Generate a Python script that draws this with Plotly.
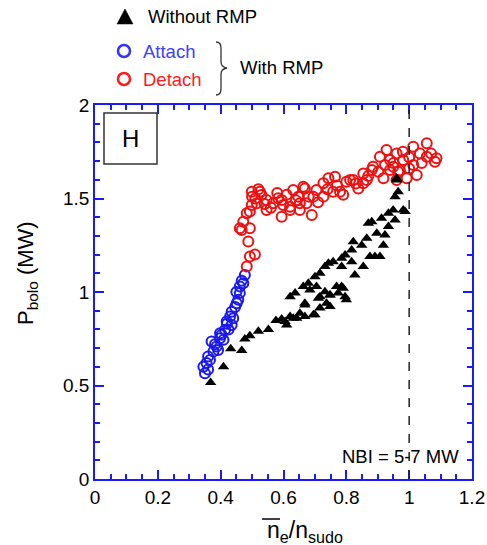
import plotly.graph_objects as go

# ---------------- data ----------------
tri_x = [0.368, 0.409, 0.432, 0.467, 0.477, 0.493, 0.52, 0.552, 0.576, 0.594, 0.61, 0.621, 0.642, 0.668,
         0.605, 0.631, 0.652, 0.695, 0.716, 0.737, 0.748, 0.774, 0.80, 0.785, 0.621, 0.637, 0.668, 0.679,
         0.684, 0.716, 0.96, 0.965, 0.955, 0.981, 0.949, 0.934, 0.912, 0.881, 0.87, 0.955, 0.934, 0.897,
         0.923, 0.865, 0.822, 0.849, 0.918, 0.817, 0.796, 0.907, 0.785, 0.758, 0.817, 0.875, 0.743, 0.732,
         0.716, 0.785, 0.854, 0.891, 0.70, 0.827, 0.663, 0.705, 0.769, 0.79, 0.732, 0.748, 0.796, 0.711,
         0.668, 0.748, 0.70, 0.96, 0.987]
tri_y = [0.516, 0.60, 0.696, 0.687, 0.748, 0.766, 0.79, 0.80, 0.847, 0.855, 0.824, 0.869, 0.86, 0.869,
         0.842, 0.86, 0.887, 0.878, 0.915, 0.94, 0.984, 0.994, 0.958, 1.03, 0.975, 0.994, 0.931, 1.047,
         1.011, 0.975, 1.599, 1.536, 1.51, 1.439, 1.439, 1.421, 1.394, 1.376, 1.368, 1.385, 1.35, 1.314,
         1.305, 1.287, 1.269, 1.25, 1.25, 1.225, 1.198, 1.19, 1.18, 1.162, 1.162, 1.19, 1.154, 1.136,
         1.10, 1.136, 1.136, 1.19, 1.082, 1.091, 1.029, 1.029, 1.029, 1.02, 1.002, 0.984, 0.975, 0.967,
         0.94, 0.922, 0.878, 1.608, 1.43]

att_x = [0.35, 0.345, 0.355, 0.366, 0.36, 0.377, 0.371, 0.387, 0.398, 0.409, 0.403, 0.414, 0.419, 0.435,
         0.43, 0.435, 0.451, 0.456, 0.461, 0.461, 0.472, 0.477, 0.467, 0.382, 0.398, 0.425, 0.44, 0.446,
         0.36, 0.392, 0.42, 0.45]
att_y = [0.566, 0.60, 0.62, 0.637, 0.655, 0.682, 0.735, 0.708, 0.753, 0.744, 0.771, 0.798, 0.842, 0.824,
         0.869, 0.895, 0.94, 0.958, 0.994, 1.029, 1.047, 1.091, 1.06, 0.72, 0.78, 0.80, 0.86, 0.92,
         0.585, 0.69, 0.83, 1.0]

det_x = [0.493, 0.509, 0.483, 0.488, 0.467, 0.493, 0.472, 0.483, 0.493, 0.499, 0.499, 0.525, 0.53, 0.515,
         0.546, 0.567, 0.546, 0.583, 0.599, 0.621, 0.631, 0.647, 0.652, 0.663, 0.673, 0.594, 0.594, 0.621,
         0.652, 0.668, 0.69, 0.695, 0.727, 0.727, 0.758, 0.764, 0.78, 0.80, 0.812, 0.838, 0.854, 0.865,
         0.881, 0.902, 0.918, 0.928, 0.939, 0.949, 0.96, 0.965, 0.981, 0.992, 1.013, 1.013, 1.024, 1.034,
         1.056, 1.056, 1.082, 1.087, 0.907, 0.923, 0.96, 0.939, 0.885, 0.854, 0.822, 0.743, 0.705, 0.461,
         0.51, 0.56, 0.61, 0.71, 0.74, 0.77, 0.79, 0.83, 0.87, 0.95, 0.97, 1.0, 1.04, 1.07, 0.98, 1.0,
         0.50, 0.52, 0.54, 0.58, 0.64, 0.68]
det_y = [1.19, 1.20, 1.136, 1.27, 1.332, 1.341, 1.376, 1.421, 1.43, 1.465, 1.536, 1.536, 1.519, 1.474,
         1.492, 1.474, 1.439, 1.501, 1.465, 1.439, 1.545, 1.51, 1.439, 1.563, 1.474, 1.492, 1.403, 1.456,
         1.474, 1.554, 1.412, 1.51, 1.581, 1.51, 1.536, 1.616, 1.536, 1.59, 1.599, 1.554, 1.634, 1.599,
         1.652, 1.643, 1.608, 1.759, 1.706, 1.67, 1.741, 1.643, 1.706, 1.608, 1.777, 1.679, 1.626, 1.741,
         1.795, 1.723, 1.697, 1.715, 1.723, 1.679, 1.599, 1.652, 1.67, 1.581, 1.599, 1.608, 1.545, 1.341,
         1.50, 1.45, 1.52, 1.48, 1.55, 1.57, 1.52, 1.58, 1.62, 1.69, 1.65, 1.72, 1.69, 1.74, 1.75, 1.66,
         1.51, 1.55, 1.47, 1.53, 1.49, 1.51]

x_ticks = [0, 0.2, 0.4, 0.6, 0.8, 1, 1.2]
y_ticks = [0, 0.5, 1, 1.5, 2]

# ---------------- layout helpers ----------------
W, H = 487, 545
L, R, T, B = 95, 15, 105, 66
PW, PH = W - L - R, H - T - B


def px(x):
    return (x - L) / PW


def py(y):
    return (H - B - y) / PH


BLUE = "#1a1aff"
FONT = "Liberation Sans, Arial, sans-serif"

fig = go.Figure()
fig.add_trace(go.Scatter(x=att_x, y=att_y, mode="markers", name="Attach",
                         marker=dict(symbol="circle-open", size=10, color="#1a1aee", line=dict(width=2))))
fig.add_trace(go.Scatter(x=det_x, y=det_y, mode="markers", name="Detach",
                         marker=dict(symbol="circle-open", size=10, color="#ee1111", line=dict(width=2))))
fig.add_trace(go.Scatter(x=tri_x, y=tri_y, mode="markers", name="Without RMP",
                         marker=dict(symbol="triangle-up", size=10, color="black")))

axis_common = dict(showline=True, linecolor=BLUE, linewidth=1.5, mirror="ticks", ticks="inside",
                   tickcolor=BLUE, tickwidth=1.5, showgrid=False, zeroline=False,
                   tickfont=dict(family=FONT, size=19, color="black"))

fig.update_xaxes(range=[0, 1.2], tickvals=x_ticks, ticktext=[str(v) for v in x_ticks], ticklen=9,
                 minor=dict(ticks="inside", dtick=0.05, tick0=0, ticklen=5, tickcolor=BLUE, tickwidth=1.5),
                 **axis_common)
fig.update_yaxes(range=[0, 2], tickvals=y_ticks, ticktext=[str(v) for v in y_ticks], ticklen=9,
                 minor=dict(ticks="inside", dtick=0.1, tick0=0, ticklen=5, tickcolor=BLUE, tickwidth=1.5),
                 **axis_common)

shapes = []
# dashed line at n/n_sudo = 1
shapes.append(dict(type="line", xref="x", yref="y", x0=1, x1=1, y0=0, y1=2,
                   line=dict(color="#222222", width=1.5, dash="dash")))
# H box
shapes.append(dict(type="rect", xref="paper", yref="paper", x0=px(104), x1=px(157), y0=py(164), y1=py(113),
                   line=dict(color="#333333", width=1.5)))
# overline on n_e
shapes.append(dict(type="line", xref="paper", yref="paper", x0=px(262), x1=px(280), y0=py(519), y1=py(519),
                   line=dict(color="black", width=1.5)))
# legend symbols
shapes.append(dict(type="path", xref="paper", yref="paper",
                   path=f"M {px(117)},{py(24)} L {px(133)},{py(24)} L {px(125)},{py(9)} Z",
                   fillcolor="black", line=dict(color="black", width=0.5)))
shapes.append(dict(type="circle", xref="paper", yref="paper", x0=px(118), x1=px(130), y0=py(57), y1=py(45),
                   line=dict(color="#3333ff", width=2.5)))
shapes.append(dict(type="circle", xref="paper", yref="paper", x0=px(118), x1=px(130), y0=py(85), y1=py(73),
                   line=dict(color="#ff1a1a", width=2.5)))
# brace
bp = (f"M {px(216)},{py(42)} Q {px(221)},{py(42)} {px(221)},{py(48)} L {px(221)},{py(62)} "
      f"Q {px(221)},{py(67)} {px(227)},{py(68)} Q {px(221)},{py(69)} {px(221)},{py(74)} "
      f"L {px(221)},{py(89)} Q {px(221)},{py(95)} {px(216)},{py(95)}")
shapes.append(dict(type="path", xref="paper", yref="paper", path=bp, line=dict(color="#333333", width=1.3)))

annotations = [
    dict(text="H", xref="paper", yref="paper", x=px(130.5), y=py(138), showarrow=False,
         font=dict(family=FONT, size=24, color="black"), xanchor="center", yanchor="middle"),
    dict(text="NBI = 5-7 MW", xref="paper", yref="paper", x=px(461), y=py(456), showarrow=False,
         font=dict(family=FONT, size=18.5, color="black"), xanchor="right", yanchor="middle"),
    dict(text="Without RMP", xref="paper", yref="paper", x=px(146), y=py(17), showarrow=False,
         font=dict(family=FONT, size=18.5, color="black"), xanchor="left", yanchor="middle"),
    dict(text="Attach", xref="paper", yref="paper", x=px(141), y=py(51), showarrow=False,
         font=dict(family=FONT, size=18.5, color="#4040ff"), xanchor="left", yanchor="middle"),
    dict(text="Detach", xref="paper", yref="paper", x=px(141), y=py(80), showarrow=False,
         font=dict(family=FONT, size=18.5, color="#ff1a1a"), xanchor="left", yanchor="middle"),
    dict(text="With RMP", xref="paper", yref="paper", x=px(238), y=py(67), showarrow=False,
         font=dict(family=FONT, size=18.5, color="black"), xanchor="left", yanchor="middle"),
    # axis titles
    dict(text="n<sub>e</sub>/n<sub>sudo</sub>", xref="paper", yref="paper", x=px(265), y=py(531),
         showarrow=False, font=dict(family=FONT, size=23, color="black"), xanchor="left", yanchor="middle"),
    dict(text="P<sub>bolo</sub> (MW)", xref="paper", yref="paper", x=px(27), y=py(273), textangle=-90,
         showarrow=False, font=dict(family=FONT, size=22, color="black"), xanchor="center", yanchor="middle"),
]

fig.update_layout(width=W, height=H, margin=dict(l=L, r=R, t=T, b=B, autoexpand=False),
                  plot_bgcolor="white", paper_bgcolor="white", showlegend=False,
                  shapes=shapes, annotations=annotations)

fig.write_html("out.html", post_script="document.body.style.margin='0px';",
               config={"displayModeBar": False})
